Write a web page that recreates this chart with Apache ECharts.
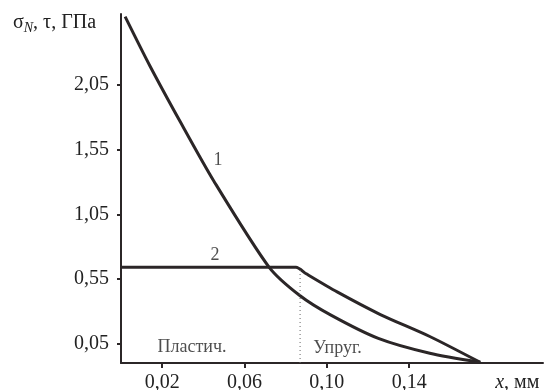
<!DOCTYPE html>
<html>
<head>
<meta charset="utf-8">
<script src="https://cdn.jsdelivr.net/npm/echarts@6/dist/echarts.min.js"></script>
<style>
  html, body { margin: 0; padding: 0; background: #fff; }
  #chart { width: 544px; height: 390px; }
</style>
</head>
<body>
<div id="chart"></div>
<script>
// кривая 1 (sigma_N)
var x1 = [0.002, 0.014, 0.029, 0.045, 0.072, 0.087, 0.102, 0.125, 0.150, 0.1745];
var y1 = [2.58, 2.20, 1.76, 1.31, 0.64, 0.42, 0.27, 0.09, -0.025, -0.095];
// кривая 2 (tau)
var x2 = [0.0, 0.085, 0.090, 0.105, 0.126, 0.150, 0.1745];
var y2 = [0.64, 0.64, 0.59, 0.45, 0.275, 0.105, -0.095];
// граница пластич./упруг.
var boundaryX = 0.087;
var xTicks = [0.02, 0.06, 0.10, 0.14];
var yTicks = [0.05, 0.55, 1.05, 1.55, 2.05];
var notes = [
  [0.0471, 1.469, '1'],
  [0.0457, 0.734, '2'],
  [0.0345, 0.021, 'Пластич.'],
  [0.1052, 0.014, 'Упруг.']
];

var yMin = -0.1, yMax = 2.6;
var ink = '#2b2627';
var txt = '#222';
var font = 'Liberation Serif';

function zip(a, b) {
  return a.map(function (v, i) { return [v, b[i]]; });
}
function fmt(v) {
  return v.toFixed(2).replace('.', ',');
}

var chart = echarts.init(document.getElementById('chart'));
chart.setOption({
  backgroundColor: '#fff',
  animation: false,
  grid: { left: 121, right: 1, top: 14, bottom: 27, outerBoundsMode: 'none' },
  xAxis: {
    type: 'value',
    min: 0,
    max: 0.205,
    axisLine: { onZero: false, lineStyle: { color: ink, width: 2 } },
    axisTick: { customValues: xTicks, length: 5, lineStyle: { color: ink, width: 2 } },
    axisLabel: {
      customValues: xTicks.concat([0.1925]),
      margin: 10,
      fontSize: 20,
      fontFamily: font,
      color: txt,
      formatter: function (v) {
        if (v > 0.18) return '{i|x}, мм';
        return fmt(v);
      },
      rich: { i: { fontStyle: 'italic', fontSize: 20, fontFamily: font, color: txt } }
    },
    splitLine: { show: false }
  },
  yAxis: {
    type: 'value',
    min: yMin,
    max: yMax,
    axisLine: { show: true, onZero: false, lineStyle: { color: ink, width: 2 } },
    axisTick: { show: true, customValues: yTicks, length: 4, lineStyle: { color: ink, width: 2 } },
    axisLabel: {
      customValues: yTicks,
      margin: 12,
      fontSize: 20,
      fontFamily: font,
      color: txt,
      formatter: fmt
    },
    splitLine: { show: false }
  },
  graphic: [{
    type: 'text',
    left: 13,
    top: 13,
    style: {
      text: 'σ{sub|N}, τ, ГПа',
      font: '20px "Liberation Serif"',
      fill: txt,
      rich: {
        sub: { fontStyle: 'italic', fontSize: 14, fontFamily: font, padding: [10, 0, 0, 0], fill: txt }
      }
    }
  }],
  series: [
    {
      type: 'line',
      data: zip(x1, y1),
      smooth: 0.25,
      showSymbol: false,
      lineStyle: { color: ink, width: 3 }
    },
    {
      type: 'line',
      data: zip(x2, y2),
      smooth: 0.25,
      showSymbol: false,
      lineStyle: { color: ink, width: 3 }
    },
    {
      type: 'line',
      data: [[boundaryX, yMin], [boundaryX, y2[1]]],
      showSymbol: false,
      lineStyle: { color: '#666', width: 1, type: [1, 3] }
    },
    {
      type: 'scatter',
      data: notes,
      symbolSize: 0,
      label: {
        show: true,
        position: 'inside',
        fontSize: 18,
        fontFamily: font,
        color: txt,
        formatter: function (p) { return p.data[2]; }
      }
    }
  ]
});
</script>
</body>
</html>
